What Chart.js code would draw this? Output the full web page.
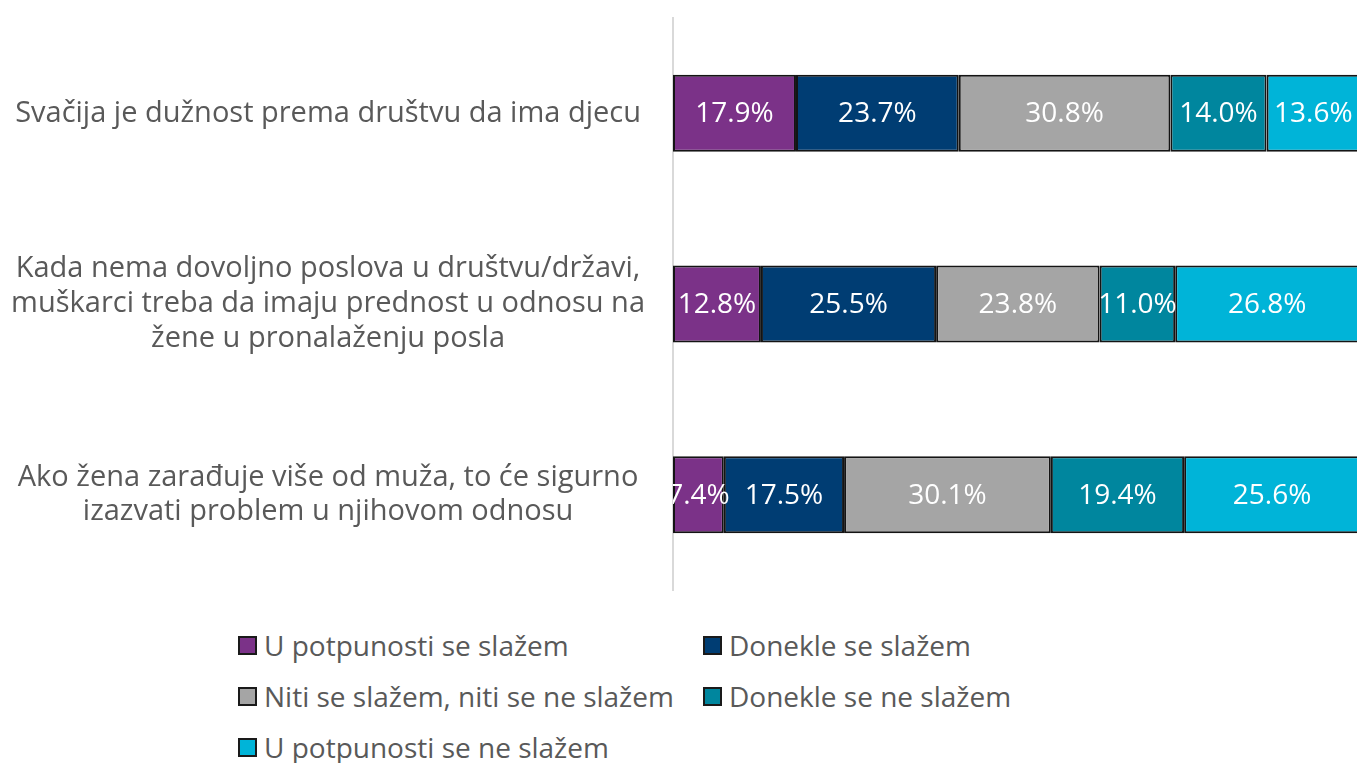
<!DOCTYPE html>
<html>
<head>
<meta charset="utf-8">
<script src="https://cdn.jsdelivr.net/npm/chart.js@4"></script>
<style>
  html, body { margin: 0; padding: 0; background: #fff; overflow: hidden; }
  #wrap { position: relative; width: 1357px; height: 763px; }
  #chartBox { position: absolute; left: 0; top: 0; width: 1360px; height: 600px; }
  #legend {
    position: absolute; left: 238px; top: 626px;
    display: grid; grid-template-columns: 465px auto; grid-auto-rows: 51px;
    font-family: "Open Sans", sans-serif; font-size: 28px; color: #595959;
  }
  .item { display: flex; align-items: center; white-space: nowrap; height: 38px; }
  .box { width: 15px; height: 15px; border: 2px solid #1a1a1a; margin-right: 7px; flex: none; }
</style>
</head>
<body>
<div id="wrap">
  <div id="chartBox"><canvas id="stackChart"></canvas></div>
  <div id="legend"></div>
</div>
<script>
const questions = [
    ['Svačija je dužnost prema društvu da ima djecu'],
    ['Kada nema dovoljno poslova u društvu/državi,', 'muškarci treba da imaju prednost u odnosu na', 'žene u pronalaženju posla'],
    ['Ako žena zarađuje više od muža, to će sigurno', 'izazvati problem u njihovom odnosu']
];
const seriesNames = [
    'U potpunosti se slažem',
    'Donekle se slažem',
    'Niti se slažem, niti se ne slažem',
    'Donekle se ne slažem',
    'U potpunosti se ne slažem'
];
const fullyAgree = [17.9, 12.8, 7.4];
const partlyAgree = [23.7, 25.5, 17.5];
const neutral = [30.8, 23.8, 30.1];
const partlyDisagree = [14.0, 11.0, 19.4];
const fullyDisagree = [13.6, 26.8, 25.6];
const seriesColors = ['#7b3288', '#003d73', '#a5a5a5', '#00869e', '#00b4d8'];

const fontFamily = '"Open Sans", sans-serif';

const seriesValues = [fullyAgree, partlyAgree, neutral, partlyDisagree, fullyDisagree];

// white value labels centred in each segment, clipped to the plot area
const valueLabels = {
    id: 'valueLabels',
    afterDatasetsDraw(chart) {
        const ctx = chart.ctx;
        const area = chart.chartArea;
        ctx.save();
        ctx.beginPath();
        ctx.rect(area.left, area.top, area.right - area.left, area.bottom - area.top);
        ctx.clip();
        ctx.fillStyle = '#ffffff';
        ctx.font = '28px ' + fontFamily;
        ctx.textAlign = 'center';
        ctx.textBaseline = 'middle';
        chart.data.datasets.forEach((ds, i) => {
            chart.getDatasetMeta(i).data.forEach((bar, j) => {
                const mid = (bar.x + bar.base) / 2;
                ctx.fillText(ds.data[j].toFixed(1) + '%', mid, bar.y + 1);
            });
        });
        ctx.restore();
    }
};

const chart = new Chart(document.getElementById('stackChart'), {
    type: 'bar',
    data: {
        labels: questions,
        datasets: seriesNames.map((name, i) => ({
            label: name,
            data: seriesValues[i],
            backgroundColor: seriesColors[i],
            borderColor: '#141414',
            borderWidth: 2,
            borderSkipped: false,
            barPercentage: 0.404,
            categoryPercentage: 1
        }))
    },
    options: {
        indexAxis: 'y',
        responsive: true,
        maintainAspectRatio: false,
        animation: false,
        layout: { padding: { top: 18, bottom: 10, left: 0, right: 0 } },
        plugins: {
            legend: { display: false },
            tooltip: { enabled: false }
        },
        scales: {
            x: {
                stacked: true,
                min: 0,
                max: 100,
                display: false
            },
            y: {
                stacked: true,
                grid: { display: false, drawTicks: false },
                border: { display: true, color: '#d9d9d9', width: 2 },
                ticks: {
                    color: '#595959',
                    padding: 28,
                    crossAlign: 'center',
                    font: { family: fontFamily, size: 29, lineHeight: 1.2 }
                },
                afterFit(scale) {
                    scale.width = 673;
                    scale.paddingTop = 0;
                    scale.paddingBottom = 0;
                }
            }
        }
    },
    plugins: [valueLabels]
});

// legend in two columns, built from the datasets
const legendEl = document.getElementById('legend');
chart.data.datasets.forEach(ds => {
    const item = document.createElement('div');
    item.className = 'item';
    const box = document.createElement('span');
    box.className = 'box';
    box.style.background = ds.backgroundColor;
    item.appendChild(box);
    item.appendChild(document.createTextNode(ds.label));
    legendEl.appendChild(item);
});
</script>
</body>
</html>
